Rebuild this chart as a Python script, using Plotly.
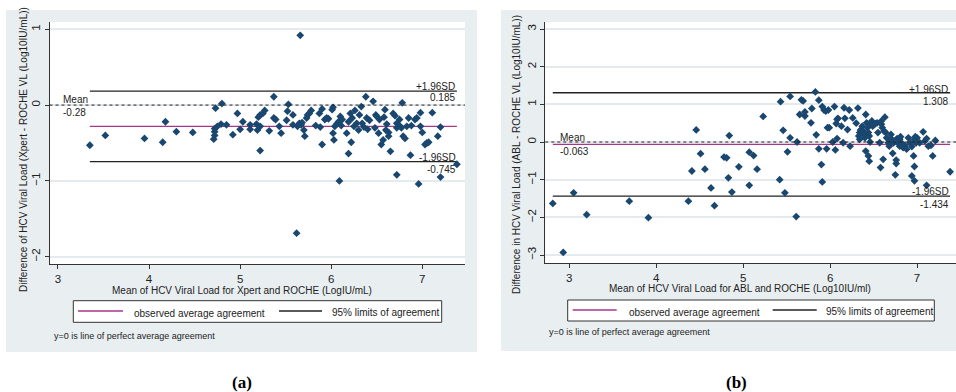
import plotly.graph_objects as go

W, H = 956, 392

# ---------------- Data: panel (a) Xpert vs ROCHE ----------------
mean_a = [3.35, 3.52, 3.95, 4.15, 4.18, 4.30, 4.48, 4.71, 4.72, 4.72, 4.72, 4.73, 4.80, 4.75, 4.79,
          4.85, 4.92, 4.97, 5.00, 5.03, 5.11, 5.11, 5.18, 5.19, 5.22, 5.20, 5.22, 5.25, 5.27, 5.22,
          5.32, 5.37, 5.37, 5.39, 5.43, 5.45, 5.51, 5.52, 5.53, 5.58, 5.58, 5.62, 5.66, 5.63, 5.65,
          5.67, 5.68, 5.70, 5.71, 5.73, 5.74, 5.76, 5.78, 5.83, 5.87, 5.88, 5.90, 5.90, 5.93, 5.95,
          5.97, 6.01, 6.02, 6.02, 6.03, 6.04, 6.06, 6.08, 6.09, 6.10, 6.11, 6.12, 6.17, 6.19, 6.19,
          6.21, 6.22, 6.23, 6.25, 6.26, 6.28, 6.30, 6.31, 6.33, 6.34, 6.36, 6.38, 6.39, 6.40, 6.42,
          6.46, 6.48, 6.49, 6.50, 6.52, 6.53, 6.55, 6.57, 6.58, 6.59, 6.60, 6.61, 6.63, 6.63, 6.65,
          6.68, 6.70, 6.72, 6.72, 6.72, 6.75, 6.75, 6.77, 6.78, 6.79, 6.81, 6.83, 6.85, 6.87, 6.88,
          6.92, 6.94, 6.96, 6.98, 6.98, 7.00, 7.03, 7.05, 7.07, 7.11, 7.17, 7.20, 7.20, 7.38]
diff_a = [-0.53, -0.40, -0.44, -0.49, -0.22, -0.35, -0.36, -0.45, -0.40, -0.35, -0.31, -0.04, 0.02, -0.28, -0.25,
          -0.26, -0.39, -0.11, -0.32, -0.22, -0.26, -0.32, -0.25, -0.33, -0.60, -0.16, -0.13, -0.11, -0.07, -0.28,
          -0.34, 0.11, -0.17, -0.19, -0.28, -0.37, -0.20, -0.08, 0.01, -0.13, -0.26, -1.69, 0.92, -0.28, -0.24,
          -0.26, -0.23, -0.33, -0.41, -0.17, -0.13, -0.11, -0.07, -0.27, -0.11, -0.29, -0.52, -0.05, -0.19, -0.17,
          -0.18, -0.06, -0.03, -0.37, -0.46, -0.28, -0.25, -0.22, -1.00, -0.15, -0.27, -0.19, -0.37, -0.22, -0.64,
          -0.11, -0.49, -0.17, -0.28, -0.07, -0.24, -0.33, -0.13, -0.02, -0.24, -0.29, 0.11, -0.17, -0.32, -0.20,
          0.05, -0.30, -0.13, -0.15, -0.37, -0.19, -0.52, -0.46, -0.16, -0.06, -0.33, -0.25, -0.41, -0.36, -0.61,
          -0.11, -0.14, -0.24, -0.30, -0.92, -0.19, -0.27, -0.30, 0.03, -0.41, -0.44, -0.28, -0.17, -0.66, -0.27,
          -0.19, -0.17, -1.04, -0.10, -0.28, -0.36, -0.52, -0.50, -0.49, -0.10, -0.41, -0.95, -0.29, -0.78]
stats_a = {"mean": -0.28, "upper": 0.185, "lower": -0.745}

# ---------------- Data: panel (b) ABL vs ROCHE ----------------
mean_b = [2.81, 2.93, 3.05, 3.20, 3.69, 3.91, 4.37, 4.41, 4.46, 4.51, 4.56, 4.63, 4.67, 4.78, 4.81,
          4.83, 4.84, 4.87, 4.95, 5.07, 5.07, 5.12, 5.16, 5.23, 5.42, 5.43, 5.46, 5.48, 5.51, 5.54,
          5.54, 5.61, 5.62, 5.65, 5.67, 5.69, 5.71, 5.71, 5.78, 5.79, 5.83, 5.84, 5.87, 5.87, 5.90,
          5.91, 5.91, 5.93, 5.95, 5.96, 5.97, 5.99, 5.98, 6.03, 6.05, 6.06, 6.07, 6.08, 6.09, 6.08,
          6.13, 6.15, 6.16, 6.17, 6.20, 6.22, 6.23, 6.26, 6.30, 6.32, 6.33, 6.34, 6.34, 6.35, 6.37,
          6.38, 6.39, 6.40, 6.41, 6.41, 6.42, 6.43, 6.44, 6.45, 6.44, 6.45, 6.46, 6.47, 6.48, 6.49,
          6.52, 6.54, 6.55, 6.57, 6.58, 6.59, 6.59, 6.60, 6.61, 6.62, 6.63, 6.64, 6.65, 6.67, 6.68,
          6.70, 6.71, 6.72, 6.73, 6.75, 6.76, 6.76, 6.77, 6.79, 6.80, 6.80, 6.81, 6.82, 6.84, 6.86,
          6.88, 6.90, 6.92, 6.94, 6.94, 6.96, 6.97, 6.97, 6.97, 6.98, 6.99, 7.00, 7.03, 7.07, 7.09,
          7.11, 7.11, 7.13, 7.16, 7.18, 7.21, 7.38]
diff_b = [-1.63, -2.93, -1.35, -1.93, -1.57, -2.01, -1.57, -0.77, 0.32, -0.31, -0.72, -1.22, -1.69, -0.40, -0.42,
          -0.95, 0.17, -1.33, -0.66, -1.15, -0.27, -0.36, -0.72, 0.68, -1.00, 1.07, 0.31, -1.35, -0.26, 0.11,
          1.21, -1.98, 0.00, 0.73, 1.12, 1.09, 0.80, 0.69, 0.51, 0.89, 1.33, 0.19, 1.11, -0.18, -0.60,
          -1.06, 0.94, 0.85, 0.82, -0.18, 0.38, 0.38, 0.85, 0.00, 0.94, -0.21, 0.49, 0.60, 0.63, 0.09,
          0.42, -0.02, 0.91, 0.63, 0.33, 0.85, -0.11, 0.64, 0.50, 0.90, 0.16, 0.25, 0.07, 0.32, 0.42,
          0.29, 0.20, 0.11, -0.24, 0.73, 0.51, 0.38, 0.25, 0.16, -0.37, -0.51, 0.00, 0.47, 0.56, 0.42,
          0.49, 0.51, 0.25, -0.02, -0.68, 0.56, 0.47, 0.38, -0.46, 0.29, 0.66, 0.25, 0.11, -0.02, -0.11,
          0.20, 0.07, -0.30, -0.02, -0.87, -0.48, -0.57, 0.09, -0.04, -0.11, 0.07, 0.14, -0.02, -0.15, -0.09,
          -0.19, 0.11, -0.02, -0.12, -0.90, -0.37, 0.07, -0.65, -1.03, 0.14, -0.02, 0.11, -0.02, 0.27, 0.03,
          0.09, -1.15, -0.11, -0.09, -0.37, 0.04, -0.79]
stats_b = {"mean": -0.063, "upper": 1.308, "lower": -1.434}

x_ticks = [3, 4, 5, 6, 7]
y_ticks_a = [-2, -1, 0, 1]
y_ticks_b = [-3, -2, -1, 0, 1, 2, 3]

# ---------------- Styling ----------------
FONT = "Liberation Sans, Arial, sans-serif"
BG = "#e9eff1"
GRID = "#e3ebee"
NAVY = "#1a476f"
MAG = "#a8358c"
TXT = "#222222"


def px(x, y):
    return x / W, 1 - y / H


fig = go.Figure()

panels = [
    dict(xa="x", ya="y", mx=mean_a, dy=diff_a, st=stats_a, yt=y_ticks_a,
         plot=(49.5, 22, 465, 264), xr=[2.907, 7.469], yr=[-2.096, 1.096],
         bg=(6, 10, 477, 352),
         xtitle="Mean of HCV Viral Load for Xpert and ROCHE (LogIU/mL)", xt_pos=(242, 290),
         ytitle="Difference of HCV Viral Load (Xpert - ROCHE VL (Log10IU/mL))", yt_pos=(23, 150),
         mean_lbl=(61, 100, 112), mean_txt="-0.28",
         up_lbl=(457, 87, 97.5), up_txt="0.185",
         lo_lbl=(458, 157, 169), lo_txt="-0.745",
         leg=(73.3, 300.7, 441.7, 322.3), leg_m=(78, 123, 311), leg_mt=(132, 313),
         leg_k=(279, 322, 311), leg_kt=(330, 312), note=(52, 336),
         cap="(a)", cap_pos=(242, 382)),
    dict(xa="x2", ya="y2", mx=mean_b, dy=diff_b, st=stats_b, yt=y_ticks_b,
         plot=(545.3, 22, 956, 263), xr=[2.724, 7.448], yr=[-3.212, 3.186],
         bg=(501, 10, 956, 351),
         xtitle="Mean of HCV Viral Load for ABL and ROCHE (Log10IU/ml)", xt_pos=(740, 288),
         ytitle="Difference in HCV Viral Load (ABL - ROCHE VL (Log10IU/mL))", yt_pos=(516, 155),
         mean_lbl=(558, 137, 151.5), mean_txt="-0.063",
         up_lbl=(950, 89, 101), up_txt="1.308",
         lo_lbl=(951, 191.5, 204), lo_txt="-1.434",
         leg=(567.7, 300, 934.3, 321), leg_m=(572.7, 616.7, 310), leg_mt=(626.7, 312.5),
         leg_k=(772.7, 816.7, 310), leg_kt=(824, 311), note=(547, 332),
         cap="(b)", cap_pos=(736, 382)),
]

shapes = []
annotations = []
layout_axes = {}

for i, p in enumerate(panels):
    sfx = "" if i == 0 else str(i + 1)
    x0, y0, x1, y1 = p["plot"]
    # grey graph region and white plot region
    bx0, by0, bx1, by1 = p["bg"]
    a, b = px(bx0, by0)
    c, d = px(bx1, by1)
    shapes.append(dict(type="rect", xref="paper", yref="paper", x0=a, y0=d, x1=c, y1=b,
                       fillcolor=BG, line=dict(width=0), layer="below"))
    a, b = px(x0, y0)
    c, d = px(x1, y1)
    shapes.append(dict(type="rect", xref="paper", yref="paper", x0=a, y0=d, x1=c, y1=b,
                       fillcolor="white", line=dict(width=0), layer="below"))

    layout_axes["xaxis" + sfx] = dict(
        domain=[x0 / W, min(x1 / W, 1.0)], range=p["xr"], anchor="y" + sfx,
        tickvals=x_ticks, ticks="outside", ticklen=4, tickwidth=1, tickcolor="#333",
        showline=True, linecolor="#333", linewidth=1, showgrid=False, zeroline=False,
        tickfont=dict(family=FONT, size=11.5, color=TXT), fixedrange=True)
    layout_axes["yaxis" + sfx] = dict(
        domain=[1 - y1 / H, 1 - y0 / H], range=p["yr"], anchor="x" + sfx,
        tickvals=p["yt"], ticks="outside", ticklen=4, tickwidth=1, tickcolor="#333",
        tickangle=-90, showline=True, linecolor="#333", linewidth=1,
        showgrid=True, gridcolor=GRID, gridwidth=1.5, zeroline=False,
        tickfont=dict(family=FONT, size=11.5, color=TXT), fixedrange=True)

    st = p["st"]
    xmin, xmax = min(p["mx"]), max(p["mx"])
    # zero (perfect agreement) dotted line across full width
    shapes.append(dict(type="line", xref=p["xa"] + " domain", yref=p["ya"], x0=0, x1=1,
                       y0=0, y1=0, line=dict(color="#222", width=1, dash="dot")))
    # limits of agreement
    for key in ("upper", "lower"):
        fig.add_trace(go.Scatter(x=[xmin, xmax], y=[st[key], st[key]], mode="lines",
                                 line=dict(color="#222", width=1.3), xaxis=p["xa"], yaxis=p["ya"],
                                 showlegend=False, hoverinfo="skip"))
    # observed mean
    fig.add_trace(go.Scatter(x=[xmin, xmax], y=[st["mean"], st["mean"]], mode="lines",
                             line=dict(color=MAG, width=1.3), xaxis=p["xa"], yaxis=p["ya"],
                             showlegend=False, hoverinfo="skip"))
    # points
    fig.add_trace(go.Scatter(x=p["mx"], y=p["dy"], mode="markers",
                             marker=dict(symbol="diamond", size=6, color=NAVY, line=dict(width=0)),
                             xaxis=p["xa"], yaxis=p["ya"], showlegend=False))

    def ann(text, xpx, ypx, xanchor="left", size=10, **kw):
        ax, ay = px(xpx, ypx)
        annotations.append(dict(text=text, x=ax, y=ay, xref="paper", yref="paper",
                                xanchor=xanchor, yanchor="middle", showarrow=False,
                                font=dict(family=kw.pop("family", FONT), size=size,
                                          color=kw.pop("color", TXT)), **kw))

    ml = p["mean_lbl"]
    ann("Mean", ml[0], ml[1])
    ann(p["mean_txt"], ml[0], ml[2])
    ul = p["up_lbl"]
    ann("+1.96SD", ul[0], ul[1], xanchor="right")
    ann(p["up_txt"], ul[0], ul[2], xanchor="right")
    ll = p["lo_lbl"]
    ann("-1.96SD", ll[0], ll[1], xanchor="right")
    ann(p["lo_txt"], ll[0], ll[2], xanchor="right")

    ann(p["xtitle"], p["xt_pos"][0], p["xt_pos"][1], xanchor="center", size=10)
    ann(p["ytitle"], p["yt_pos"][0], p["yt_pos"][1], xanchor="center", size=10, textangle=-90)

    # legend box
    lx0, ly0, lx1, ly1 = p["leg"]
    a, b = px(lx0, ly0)
    c, d = px(lx1, ly1)
    shapes.append(dict(type="rect", xref="paper", yref="paper", x0=a, y0=d, x1=c, y1=b,
                       fillcolor="white", line=dict(color="#333", width=1)))
    m0, m1, my = p["leg_m"]
    a, b = px(m0, my)
    c, _ = px(m1, my)
    shapes.append(dict(type="line", xref="paper", yref="paper", x0=a, x1=c, y0=b, y1=b,
                       line=dict(color=MAG, width=1.3)))
    k0, k1, ky = p["leg_k"]
    a, b = px(k0, ky)
    c, _ = px(k1, ky)
    shapes.append(dict(type="line", xref="paper", yref="paper", x0=a, x1=c, y0=b, y1=b,
                       line=dict(color="#222", width=1.3)))
    ann("observed average agreement", p["leg_mt"][0], p["leg_mt"][1], size=10)
    ann("95% limits of agreement", p["leg_kt"][0], p["leg_kt"][1], size=10)
    ann("y=0 is line of perfect average agreement", p["note"][0], p["note"][1], size=9)
    ann("<b>" + p["cap"] + "</b>", p["cap_pos"][0], p["cap_pos"][1], xanchor="center", size=17,
        family="Liberation Serif, Times New Roman, serif", color="#000")

fig.update_layout(
    width=W, height=H, autosize=False,
    margin=dict(l=0, r=0, t=0, b=0),
    paper_bgcolor="white", plot_bgcolor="rgba(0,0,0,0)",
    shapes=shapes, annotations=annotations, showlegend=False,
    **layout_axes,
)

fig.write_html("out.html", config={"displayModeBar": False},
               post_script="document.body.style.margin='0';document.body.style.overflow='hidden';")
